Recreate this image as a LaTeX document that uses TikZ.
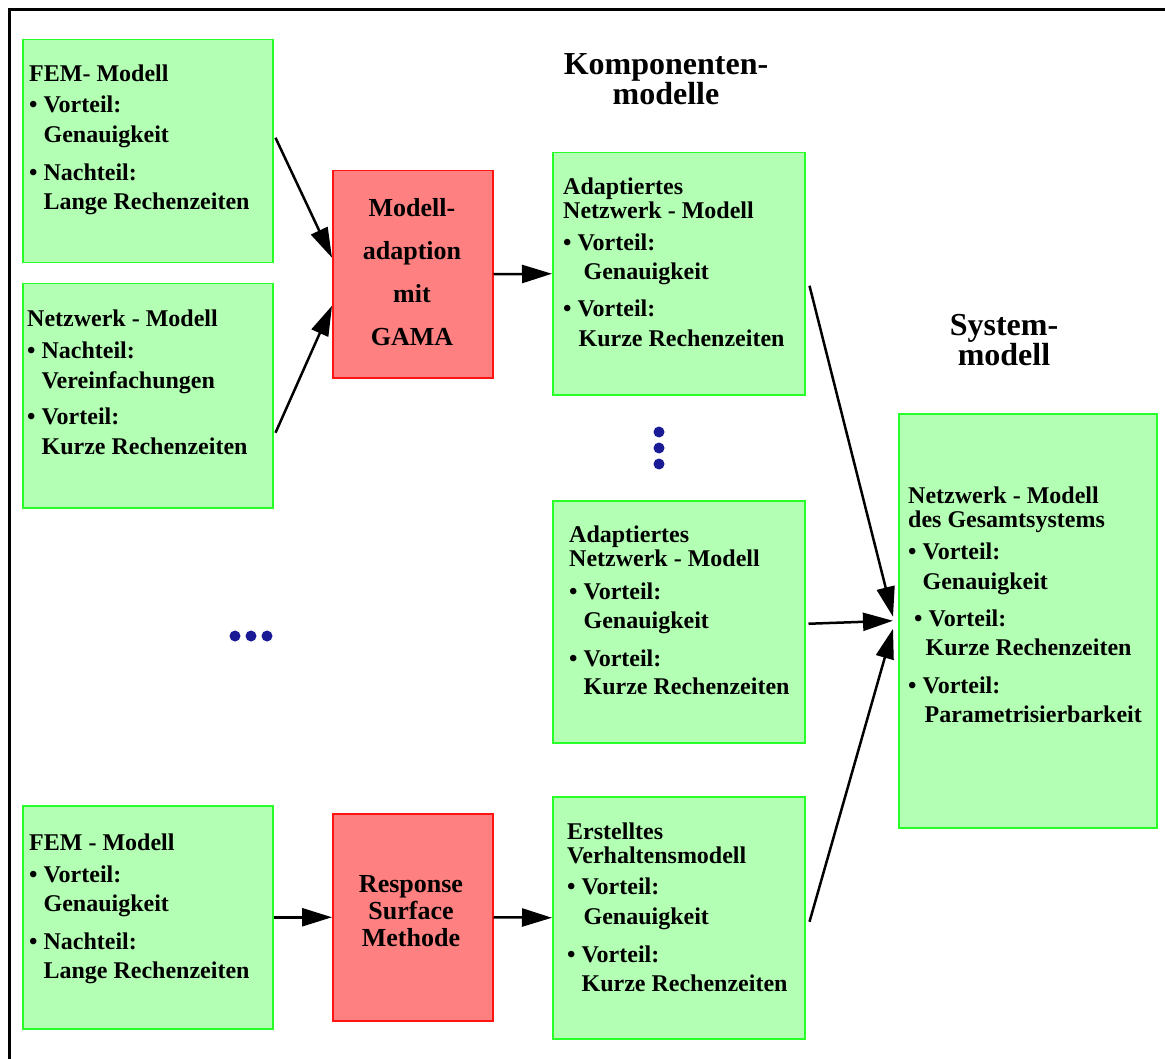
\documentclass[tikz,border=0pt]{standalone}
\usepackage{fontspec}
\setmainfont{Liberation Serif}
\usetikzlibrary{arrows.meta,calc}
\definecolor{boxgreen}{RGB}{179,255,179}
\definecolor{edgegreen}{RGB}{40,255,40}
\definecolor{boxred}{RGB}{255,128,128}
\definecolor{edgered}{RGB}{255,20,20}
\definecolor{dotblue}{RGB}{26,26,150}
\newcommand\itembul{\textbullet\ }
\newcommand\itemind{\hphantom{\textbullet\ }}
\begin{document}
\begin{tikzpicture}[x=1pt,y=-1pt,
  greenbox/.style={draw=edgegreen, fill=boxgreen, line width=1.5pt, anchor=north west, inner sep=0pt},
  redbox/.style={draw=edgered, fill=boxred, line width=1.5pt, anchor=north west, inner sep=0pt},
  txt/.style={anchor=north west, inner sep=0pt, align=left, font=\fontsize{24pt}{24pt}\selectfont\bfseries},
  redtxt/.style={inner sep=0pt, align=center, font=\fontsize{26pt}{#1}\selectfont\bfseries},
  headtxt/.style={inner sep=0pt, align=center, font=\fontsize{32pt}{#1}\selectfont\bfseries},
  flow/.style={line width=2.5pt, -{Triangle[length=30pt,width=18pt]}},
  dot/.style={circle, fill=dotblue, inner sep=0pt, minimum size=11pt}]
\useasboundingbox (0,0) rectangle (1165,1059);

% outer frame (open towards right and bottom)
\draw[line width=3pt] (9.5,1075) -- (9.5,9.5) -- (1180,9.5);

% headings
\node[headtxt=29pt] (hkomp) at (666,79) {Komponenten-\\modelle};
\node[headtxt=30pt] (hsys) at (1004,340) {System-\\modell};

% left column: source models
\node[greenbox, minimum width=250pt, minimum height=223pt] (fem1) at (22,39) {};
\node[txt] (fem1t) at (29,65) {FEM- Modell\\[7pt]\itembul Vorteil:\\[6pt]\itemind Genauigkeit\\[14pt]\itembul Nachteil:\\[5pt]\itemind Lange Rechenzeiten};

\node[greenbox, minimum width=250pt, minimum height=224pt] (netz) at (22,283) {};
\node[txt] (netzt) at (27,310) {Netzwerk - Modell\\[8pt]\itembul Nachteil:\\[6pt]\itemind Vereinfachungen\\[12pt]\itembul Vorteil:\\[6pt]\itemind Kurze Rechenzeiten};

\node[greenbox, minimum width=250pt, minimum height=223pt] (fem2) at (22,805) {};
\node[txt] (fem2t) at (29,834) {FEM - Modell\\[8pt]\itembul Vorteil:\\[5pt]\itemind Genauigkeit\\[14pt]\itembul Nachteil:\\[5pt]\itemind Lange Rechenzeiten};

% horizontal ellipsis
\node[dot] (hd1) at (235,636) {};
\node[dot] (hd2) at (251,636) {};
\node[dot] (hd3) at (267,636) {};

% adaption steps
\node[redbox, minimum width=160pt, minimum height=207pt] (gama) at (332,170) {};
\node[redtxt=43pt] (gamat) at (412,272) {Modell-\\adaption\\mit\\GAMA};

\node[redbox, minimum width=160pt, minimum height=207pt] (rsm) at (332,813) {};
\node[redtxt=27pt] (rsmt) at (411,911) {Response\\Surface\\Methode};

% component models
\node[greenbox, minimum width=252pt, minimum height=242pt] (ada1) at (552,152) {};
\node[txt] (ada1t) at (563,178) {Adaptiertes\\Netzwerk - Modell\\[8pt]\itembul Vorteil:\\[5pt]\itemind\hspace*{6pt}Genauigkeit\\[13pt]\itembul Vorteil:\\[6pt]\itemind\hspace*{1pt}Kurze Rechenzeiten};

\node[dot] (vd1) at (659,432) {};
\node[dot] (vd2) at (659,448) {};
\node[dot] (vd3) at (659,464) {};

\node[greenbox, minimum width=252pt, minimum height=242pt] (ada2) at (552,500) {};
\node[txt] (ada2t) at (569,526) {Adaptiertes\\Netzwerk - Modell\\[9pt]\itembul Vorteil:\\[5pt]\itemind Genauigkeit\\[14pt]\itembul Vorteil:\\[4pt]\itemind Kurze Rechenzeiten};

\node[greenbox, minimum width=252pt, minimum height=242pt] (erst) at (552,796) {};
\node[txt] (erstt) at (567,823) {Erstelltes\\Verhaltensmodell\\[7pt]\itembul Vorteil:\\[6pt]\itemind\hspace*{2pt}Genauigkeit\\[14pt]\itembul Vorteil:\\[5pt]\itemind Kurze Rechenzeiten};

% system model
\node[greenbox, minimum width=258pt, minimum height=414pt] (sys) at (898,413) {};
\node[txt] (syst) at (908,487) {Netzwerk - Modell\\des Gesamtsystems\\[8pt]\itembul Vorteil:\\[6pt]\itemind Genauigkeit\\[13pt]\hspace*{6pt}\itembul Vorteil:\\[5pt]\itemind\hspace*{3pt}Kurze Rechenzeiten\\[14pt]\itembul Vorteil:\\[5pt]\itemind\hspace*{2pt}Parametrisierbarkeit};

% connectors
\draw[flow] ($(fem1.east)+(2,-13.5)$) -- ($(gama.west)+(0,-16.5)$);
\draw[flow] ($(netz.east)+(2,37)$) -- ($(gama.west)+(0,31.5)$);
\draw[flow] (gama.east) -- (ada1.west);
\draw[flow] ($(ada1.east)+(4,12)$) -- ($(sys.west)+(-5,-4)$);
\draw[flow] ($(ada2.east)+(3,2)$) -- ($(sys.west)+(-5,0)$);
\draw[flow] ($(erst.east)+(4,4)$) -- ($(sys.west)+(-5,8)$);
\draw[flow] (fem2.east) -- (rsm.west);
\draw[flow] (rsm.east) -- (erst.west);
\end{tikzpicture}
\end{document}
